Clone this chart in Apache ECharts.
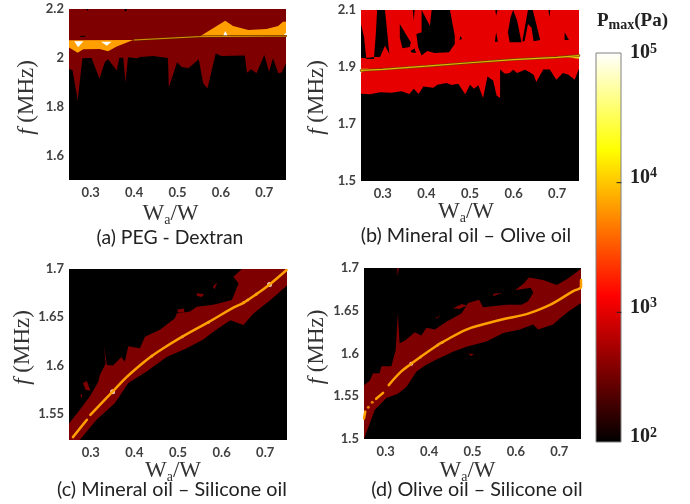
<!DOCTYPE html>
<html>
<head>
<meta charset="utf-8">
<title>Pmax contours</title>
<style>
  html, body { margin: 0; padding: 0; background: #fff; }
  #chart { width: 690px; height: 504px; }
</style>
<script src="https://cdn.jsdelivr.net/npm/echarts@6/dist/echarts.min.js"></script>
</head>
<body>
<div id="chart"></div>
<script>
// colours of the contour levels
var darkRed = '#7f0000'
var red = '#e60000'
var orange = '#ffa000'
var yellow = '#e8d010'

var xTicks = [0.3, 0.4, 0.5, 0.6, 0.7]
var yTicksA = [1.6, 1.8, 2, 2.2]
var yTicksB = [1.5, 1.7, 1.9, 2.1]
var yTicksC = [1.55, 1.6, 1.65, 1.7]
var yTicksD = [1.5, 1.55, 1.6, 1.65, 1.7]
var barTicks = [100, 1000, 10000, 100000]

// (a) PEG - Dextran
var aBandLower = [[0.25,1.954],[0.258,1.95],[0.27,1.827],[0.281,1.998],[0.302,1.999],[0.32,1.916],[0.333,1.984],[0.34,1.994],[0.36,1.948],[0.366,2],[0.375,2],[0.38,1.898],[0.386,2.002],[0.407,1.998],[0.413,2.003],[0.444,2.008],[0.478,1.999],[0.48,1.879],[0.499,1.982],[0.509,1.964],[0.525,1.957],[0.549,1.994],[0.559,1.896],[0.569,1.875],[0.588,2.018],[0.601,2.008],[0.655,2.01],[0.66,1.939],[0.67,1.953],[0.682,1.937],[0.7,2.012],[0.711,1.943],[0.72,1.998],[0.732,1.937],[0.74,1.94],[0.75,1.978],[0.75,2.2],[0.25,2.2]]
var aOrangeLeft = [[0.25,2.072],[0.398,2.073],[0.36,2.046],[0.34,2.027],[0.321,2.036],[0.283,2.035],[0.27,2.021],[0.25,2.042]]
var aOrangeRight = [[0.551,2.087],[0.582,2.121],[0.61,2.152],[0.628,2.13],[0.663,2.114],[0.705,2.118],[0.732,2.13],[0.743,2.148],[0.75,2.148],[0.75,2.089]]
var aWhite1 = [[0.262,2.068],[0.283,2.068],[0.271,2.043]]
var aWhite2 = [[0.324,2.066],[0.348,2.066],[0.337,2.05]]
var aWhite3 = [[0.605,2.089],[0.616,2.089],[0.61,2.11]]
var aWhite4 = [[0.743,2.089],[0.75,2.089],[0.75,2.103]]
var aRidge = [[0.4,2.073],[0.551,2.087],[0.75,2.089]]
var aSpecks = [
  [[0.29,2.2],[0.295,2.2],[0.292,2.192]],
  [[0.377,2.2],[0.384,2.2],[0.38,2.188]],
  [[0.275,2.09],[0.288,2.09],[0.288,2.086],[0.275,2.086]]
]

// (b) Mineral oil - Olive oil
var bBandLower = [[0.25,1.806],[0.271,1.804],[0.294,1.811],[0.32,1.81],[0.343,1.815],[0.361,1.805],[0.371,1.824],[0.382,1.805],[0.393,1.832],[0.416,1.827],[0.425,1.838],[0.446,1.844],[0.458,1.837],[0.473,1.841],[0.489,1.804],[0.5,1.838],[0.509,1.824],[0.519,1.836],[0.53,1.791],[0.54,1.867],[0.553,1.853],[0.561,1.8],[0.569,1.791],[0.569,1.891],[0.58,1.876],[0.591,1.879],[0.599,1.89],[0.608,1.879],[0.626,1.89],[0.637,1.882],[0.646,1.873],[0.652,1.847],[0.668,1.891],[0.683,1.891],[0.698,1.855],[0.713,1.879],[0.725,1.874],[0.74,1.855],[0.75,1.894],[0.75,2.1],[0.25,2.1]]
var bGaps = [
  [[0.25,2.051],[0.257,2.004],[0.262,1.932],[0.25,1.932]],
  [[0.262,1.932],[0.28,1.935],[0.28,1.928],[0.262,1.928]],
  [[0.287,2.1],[0.305,2.1],[0.315,1.946],[0.305,1.975],[0.2935,1.935],[0.28,1.935],[0.284,2.016]],
  [[0.339,2.051],[0.364,1.987],[0.362,1.97],[0.345,1.966],[0.339,2.004]],
  [[0.369,2.1],[0.373,2.1],[0.371,2.063]],
  [[0.364,1.957],[0.373,1.965],[0.376,1.949],[0.366,1.951]],
  [[0.389,2.1],[0.408,2.045],[0.412,2.1],[0.454,2.1],[0.465,2.01],[0.465,1.981],[0.452,1.952],[0.419,1.949],[0.402,1.956],[0.389,1.94],[0.381,1.97],[0.377,2.016],[0.389,2.022]],
  [[0.478,2.01],[0.482,1.998],[0.476,1.995]],
  [[0.56,2.022],[0.564,1.989],[0.557,1.989]],
  [[0.558,2.1],[0.563,2.1],[0.56,2.08]],
  [[0.599,2.1],[0.608,2.063],[0.618,1.987],[0.591,1.987],[0.587,2.022],[0.593,2.074]],
  [[0.633,2.1],[0.644,2.1],[0.652,2.051],[0.661,1.995],[0.646,1.99],[0.641,2.039],[0.633,2.051],[0.625,1.99],[0.62,1.99]],
  [[0.68,2.1],[0.684,2.1],[0.682,2.074]],
  [[0.717,2.022],[0.727,1.995],[0.717,1.995]]
]
var bRidge = [[0.25,1.888],[0.3,1.892],[0.4,1.903],[0.5,1.915],[0.6,1.926],[0.7,1.934],[0.75,1.94]]
var bYellowLeft = [[0.25,1.894],[0.267,1.894],[0.25,1.88]]
var bYellowRight = [[0.717,1.935],[0.75,1.944],[0.75,1.929]]

// (c) Mineral oil - Silicone oil
var cBand = [[0.25,1.523],[0.2745,1.523],[0.313,1.544],[0.355,1.561],[0.386,1.582],[0.428,1.594],[0.474,1.609],[0.52,1.618],[0.558,1.627],[0.581,1.635],[0.62,1.647],[0.65,1.642],[0.673,1.654],[0.712,1.668],[0.75,1.683],[0.75,1.7],[0.6465,1.7],[0.627,1.692],[0.639,1.685],[0.6235,1.668],[0.581,1.663],[0.543,1.661],[0.5277,1.656],[0.497,1.654],[0.493,1.649],[0.4586,1.637],[0.424,1.63],[0.4126,1.618],[0.386,1.62],[0.378,1.604],[0.37,1.609],[0.351,1.6],[0.337,1.6006],[0.3305,1.62],[0.334,1.602],[0.3206,1.59],[0.317,1.583],[0.2976,1.568],[0.2745,1.554],[0.25,1.54]]
var cIslands = [
  [[0.282,1.582],[0.291,1.584],[0.299,1.574],[0.288,1.575]],
  [[0.276,1.57],[0.281,1.57],[0.278,1.566]],
  [[0.542,1.675],[0.56,1.674],[0.554,1.671],[0.544,1.672]],
  [[0.58,1.682],[0.59,1.686],[0.584,1.679]],
  [[0.499,1.658],[0.514,1.659],[0.514,1.655],[0.499,1.655]]
]
var cCurve1 = [[0.259,1.526],[0.291,1.544]]
var cCurve2 = [[0.299,1.549],[0.35,1.573],[0.382,1.588],[0.42,1.603],[0.44,1.61],[0.47,1.619],[0.51,1.63],[0.57,1.645],[0.627,1.66],[0.65,1.665],[0.68,1.674],[0.71,1.684],[0.749,1.699]]
var cWhiteDots = [[0.35,1.573],[0.71,1.684]]
var cSmallDots = [[0.44,1.61],[0.51,1.63],[0.57,1.645],[0.65,1.665],[0.66,1.668],[0.68,1.674]]

// (d) Olive oil - Silicone oil
var dBand = [[0.25,1.5],[0.2746,1.534],[0.3015,1.548],[0.328,1.553],[0.348,1.561],[0.371,1.579],[0.394,1.587],[0.417,1.593],[0.455,1.602],[0.486,1.608],[0.532,1.614],[0.571,1.624],[0.609,1.628],[0.64,1.634],[0.651,1.628],[0.686,1.634],[0.701,1.641],[0.721,1.649],[0.75,1.659],[0.75,1.699],[0.721,1.688],[0.694,1.68],[0.663,1.686],[0.63,1.689],[0.618,1.682],[0.598,1.674],[0.634,1.677],[0.64,1.671],[0.628,1.661],[0.613,1.657],[0.578,1.657],[0.5245,1.654],[0.515,1.663],[0.49,1.659],[0.475,1.647],[0.44,1.637],[0.413,1.628],[0.394,1.63],[0.382,1.621],[0.367,1.625],[0.344,1.615],[0.332,1.612],[0.328,1.647],[0.323,1.604],[0.313,1.585],[0.29,1.585],[0.286,1.577],[0.271,1.577],[0.263,1.568],[0.25,1.563]]
var dIslands = [
  [[0.455,1.653],[0.475,1.658],[0.487,1.656],[0.47,1.652]],
  [[0.548,1.67],[0.568,1.671],[0.548,1.667]],
  [[0.49,1.6],[0.504,1.599],[0.496,1.597]],
  [[0.326,1.7],[0.33,1.7],[0.328,1.69]],
  [[0.415,1.642],[0.428,1.644],[0.416,1.641]]
]
var dCurve1 = [[0.25,1.524],[0.253,1.532]]
var dCurve2 = [[0.278,1.547],[0.294,1.554]]
var dCurve3 = [[0.307,1.563],[0.336,1.579],[0.359,1.588],[0.38,1.596],[0.42,1.61],[0.43,1.613],[0.486,1.628],[0.532,1.635],[0.57,1.64],[0.6245,1.646],[0.671,1.655],[0.7,1.663],[0.732,1.673],[0.75,1.678],[0.75,1.686]]
var dOrangeDots = [[0.26,1.537],[0.269,1.543]]
var dWhiteDots = [[0.359,1.588]]
var dSmallDots = [[0.38,1.596],[0.42,1.61],[0.43,1.613]]

// colour bar
var barCorners = [[0,100],[1,100],[1,100000],[0,100000]]
var barTick3 = [[0.84,1000],[1,1000]]
var barTick4 = [[0.84,10000],[1,10000]]
var hotStops = [[0,'#000000'],[0.375,'#ff0000'],[0.75,'#ffff00'],[1,'#ffffff']]

var tickFont = { fontFamily: 'Lato', fontWeight: 'bold', fontSize: 13, color: '#404040' }

function region(g, pts, color) {
  return {
    type: 'custom', xAxisIndex: g, yAxisIndex: g, silent: true, clip: true,
    data: pts,
    renderItem: function (params, api) {
      if (params.dataIndex !== 0) return null
      return {
        type: 'polygon',
        shape: { points: pts.map(function (p) { return api.coord(p) }) },
        style: { fill: color }
      }
    }
  }
}

function curve(g, pts, color, w, smooth) {
  return {
    type: 'line', xAxisIndex: g, yAxisIndex: g, silent: true, showSymbol: false,
    smooth: smooth || false,
    data: pts, lineStyle: { color: color, width: w, cap: 'round' }
  }
}

function dots(g, pts, color, size) {
  return {
    type: 'scatter', xAxisIndex: g, yAxisIndex: g, silent: true,
    data: pts, symbolSize: size, itemStyle: { color: color }
  }
}

function panelX(g, gap, shift) {
  return {
    gridIndex: g, type: 'value', min: 0.25, max: 0.75,
    splitLine: { show: false }, axisLine: { show: false }, axisTick: { show: false },
    axisLabel: Object.assign({ customValues: xTicks, margin: 6, formatter: function (v) { return String(v) } }, tickFont),
    name: 'W{sub|a}/W', nameLocation: 'middle', nameGap: gap,
    nameTextStyle: {
      fontFamily: 'Liberation Serif', fontSize: 23, color: '#333',
      padding: [0, shift, 0, 0],
      rich: { sub: { fontFamily: 'Liberation Serif', fontSize: 14, color: '#333', padding: [12, 0, 0, 0] } }
    }
  }
}

function panelY(g, lo, hi, ticks, gap, pad) {
  return {
    gridIndex: g, type: 'value', min: lo, max: hi,
    splitLine: { show: false }, axisLine: { show: false }, axisTick: { show: false },
    axisLabel: Object.assign({ customValues: ticks, margin: 5, formatter: function (v) { return String(v) } }, tickFont),
    name: '{it|f} (MHz)', nameLocation: 'middle', nameGap: gap, nameRotate: 90,
    nameTextStyle: {
      fontFamily: 'Liberation Serif', fontSize: 23, color: '#333',
      padding: pad,
      rich: { it: { fontFamily: 'Liberation Serif', fontStyle: 'italic', fontSize: 23, color: '#333' } }
    }
  }
}

function caption(text, cx, cy, size) {
  return {
    type: 'text', x: cx, y: cy,
    style: { text: text, fontFamily: 'Lato', fontSize: size, fill: '#222', textAlign: 'center', textVerticalAlign: 'middle' }
  }
}

var series = [
  region(0, aBandLower, darkRed),
  region(0, aOrangeLeft, orange),
  region(0, aOrangeRight, orange),
  region(0, aWhite1, '#fff'),
  region(0, aWhite2, '#fff'),
  region(0, aWhite3, '#fff'),
  region(0, aWhite4, '#fff'),
  curve(0, aRidge, '#5a2800', 2),
  curve(0, aRidge, '#e09000', 1),

  region(1, bBandLower, red)
]
aSpecks.forEach(function (g) { series.push(region(0, g, '#000')) })
bGaps.forEach(function (g) { series.push(region(1, g, '#000')) })
series.push(
  curve(1, bRidge, '#7a3a00', 2.5),
  curve(1, bRidge, '#e0b800', 1.2),
  region(1, bYellowLeft, yellow),
  region(1, bYellowRight, yellow),

  region(2, cBand, darkRed)
)
cIslands.forEach(function (g) { series.push(region(2, g, darkRed)) })
series.push(
  curve(2, cCurve1, orange, 2.5),
  curve(2, cCurve2, orange, 2.5, 0.4),
  dots(2, cSmallDots, '#c8c8a0', 3),
  dots(2, cWhiteDots, '#fff', 5),

  region(3, dBand, darkRed)
)
dIslands.forEach(function (g) { series.push(region(3, g, darkRed)) })
series.push(
  curve(3, dCurve1, orange, 2.5),
  curve(3, dCurve2, orange, 2.5),
  curve(3, dCurve3, orange, 2.5, 0.4),
  dots(3, dOrangeDots, orange, 3),
  dots(3, dSmallDots, '#c8c8a0', 3),
  dots(3, dWhiteDots, '#fff', 4)
)

// colour bar drawn as one gradient rectangle on its own log axis
series.push({
  type: 'custom', xAxisIndex: 4, yAxisIndex: 4, silent: true, clip: false, z: 1,
  data: barCorners,
  renderItem: function (params, api) {
    if (params.dataIndex !== 0) return null
    return {
      type: 'polygon',
      shape: { points: barCorners.map(function (p) { return api.coord(p) }) },
      style: {
        fill: new echarts.graphic.LinearGradient(0, 1, 0, 0, hotStops.map(function (s) {
          return { offset: s[0], color: s[1] }
        })),
        stroke: '#808080', lineWidth: 1
      }
    }
  }
})
series.push(curve(4, barTick3, '#222', 1), curve(4, barTick4, '#222', 1))

var chart = echarts.init(document.getElementById('chart'), null, { renderer: 'canvas' })
chart.setOption({
  animation: false,
  backgroundColor: '#fff',
  grid: [
    { left: 69, top: 9, width: 217, height: 171, show: true, backgroundColor: '#000', borderWidth: 0 },
    { left: 361, top: 10, width: 218, height: 171, show: true, backgroundColor: '#000', borderWidth: 0 },
    { left: 69, top: 269, width: 218, height: 171, show: true, backgroundColor: '#000', borderWidth: 0 },
    { left: 364, top: 268, width: 217, height: 171, show: true, backgroundColor: '#000', borderWidth: 0 },
    { left: 596, top: 53, width: 25, height: 389 }
  ],
  xAxis: [
    panelX(0, 21, 14), panelX(1, 18, 8), panelX(2, 16, 10), panelX(3, 19, 10),
    { gridIndex: 4, type: 'value', min: 0, max: 1, show: false }
  ],
  yAxis: [
    panelY(0, 1.5, 2.2, yTicksA, 31, [0, 6, 0, 0]),
    panelY(1, 1.5, 2.1, yTicksB, 33, [0, 4, 0, 0]),
    panelY(2, 1.523, 1.7, yTicksC, 35, [0, 0, 0, 14]),
    panelY(3, 1.5, 1.7, yTicksD, 36, [0, 0, 0, 13]),
    {
      gridIndex: 4, type: 'log', min: 100, max: 100000, position: 'right', z: 5,
      splitLine: { show: false }, axisLine: { show: false }, minorTick: { show: false },
      axisTick: { show: false },
      axisLabel: {
        customValues: barTicks, margin: 9, align: 'left',
        formatter: function (v) {
          var n = Math.round(Math.log10(v))
          // labels sit a little above their ticks, except the top one
          return n === 5 ? '{top|10}{topSup|5}' : '{low|10}{lowSup|' + n + '}'
        },
        rich: {
          top: { fontFamily: 'Liberation Serif', fontWeight: 'bold', fontSize: 20, color: '#222' },
          topSup: { fontFamily: 'Liberation Serif', fontWeight: 'bold', fontSize: 14, color: '#222', padding: [0, 0, 8, 0] },
          low: { fontFamily: 'Liberation Serif', fontWeight: 'bold', fontSize: 20, color: '#222', padding: [0, 0, 10, 0] },
          lowSup: { fontFamily: 'Liberation Serif', fontWeight: 'bold', fontSize: 14, color: '#222', padding: [0, 0, 18, 0] }
        }
      }
    }
  ],
  graphic: [
    caption('(a) PEG - Dextran', 170, 238, 19.4),
    caption('(b) Mineral oil – Olive oil', 466, 236, 19.8),
    caption('(c) Mineral oil – Silicone oil', 172, 490, 19.8),
    caption('(d) Olive oil – Silicone oil', 477, 490, 19.8)
  ],
  title: {
    text: 'P{sub|max}(Pa)', left: 597, top: 10, padding: 0,
    textStyle: {
      fontFamily: 'Liberation Serif', fontWeight: 'bold', fontSize: 19, color: '#222',
      rich: { sub: { fontFamily: 'Liberation Serif', fontWeight: 'bold', fontSize: 14, color: '#222', padding: [8, 0, 0, 0] } }
    }
  },
  series: series
})
</script>
</body>
</html>
